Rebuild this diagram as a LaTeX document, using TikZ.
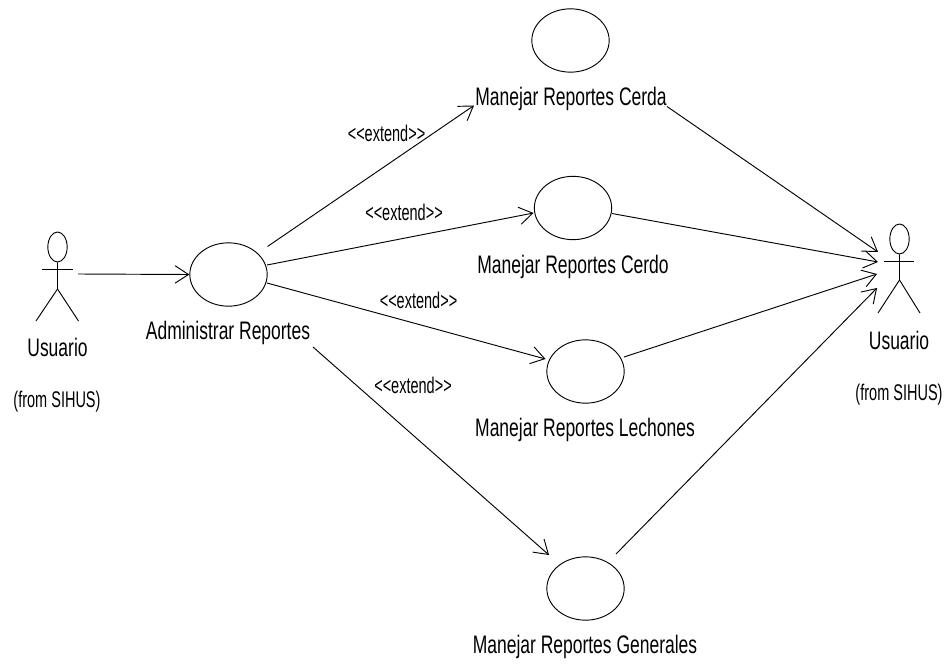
\documentclass[tikz,border=0pt]{standalone}
\usepackage{fontspec}
\setmainfont[FakeStretch=0.69]{Liberation Sans}
\newfontfamily\narrowsmall[FakeStretch=0.64]{Liberation Sans}
\usetikzlibrary{arrows.meta,shapes.geometric}
\tikzset{
  usecase/.style={draw=black,ellipse,line width=.7pt,minimum width=58pt,minimum height=47.5pt,inner sep=0pt},
  head/.style={draw=black,ellipse,line width=.7pt,inner sep=0pt},
  bigtext/.style={font=\fontsize{19}{21}\selectfont,inner sep=0pt,text=black},
  smalltext/.style={font=\narrowsmall\fontsize{17}{19}\selectfont,inner sep=0pt,text=black},
  conn/.style={line width=.7pt,draw=black},
  rel/.style={conn,-{Straight Barb[length=10pt,width=13pt,line width=.7pt]}},
  limb/.style={line width=.7pt,draw=black}
}
\begin{document}
\begin{tikzpicture}[x=0.75pt,y=-0.75pt]
\useasboundingbox (0,0) rectangle (948,663);
\fill[white] (0,0) rectangle (948,663);
% use cases
\node[usecase] (admin) at (228.5,274.5) {};
\node[usecase] (cerda) at (570.5,40.5) {};
\node[usecase] (cerdo) at (573,208) {};
\node[usecase] (lech) at (585.5,371.5) {};
\node[usecase] (gen) at (585.5,588.5) {};
% use case labels
\node[bigtext] (ladmin) at (228,333) {Administrar Reportes};
\node[bigtext] (lcerda) at (571,99) {Manejar Reportes Cerda};
\node[bigtext] (lcerdo) at (573,267) {Manejar Reportes Cerdo};
\node[bigtext] (llech) at (585,430) {Manejar Reportes Lechones};
\node[bigtext] (lgen) at (585,647) {Manejar Reportes Generales};
% left actor
\node[head,minimum width=14.5pt,minimum height=22.5pt] (hl) at (57.5,247) {};
\coordinate (hipl) at (57.5,289);
\coordinate (arml) at (42,269);
\coordinate (armr) at (72.5,269);
\coordinate (legl) at (36,321);
\coordinate (legr) at (78.5,321);
\draw[limb] (hl.south) -- (hipl) -- (legl);
\draw[limb] (hipl) -- (legr);
\draw[limb] (arml) -- (armr);
\node[bigtext] (ul) at (57.5,347) {Usuario};
\node[smalltext] (fl) at (57,402) {(from SIHUS)};
% right actor
\node[head,minimum width=14.5pt,minimum height=22.5pt] (hr) at (899.5,239) {};
\coordinate (hipr) at (899.5,280);
\coordinate (arrl) at (884,261);
\coordinate (arrr) at (914,261);
\coordinate (lgrl) at (878,313);
\coordinate (lgrr) at (920,313);
\draw[limb] (hr.south) -- (hipr) -- (lgrl);
\draw[limb] (hipr) -- (lgrr);
\draw[limb] (arrl) -- (arrr);
\node[bigtext] (ur) at (899,340) {Usuario};
\node[smalltext] (fr) at (899,395) {(from SIHUS)};
% connector ends
\coordinate (s0) at (78,274);
\coordinate (a1s) at (267.5,246.5);
\coordinate (a1e) at (474,105.5);
\coordinate (a2s) at (267,265);
\coordinate (a2e) at (533.5,213);
\coordinate (a3s) at (267,283);
\coordinate (a3e) at (545.5,359);
\coordinate (a4s) at (313,347);
\coordinate (a4e) at (549,555);
\coordinate (b1s) at (667,106.5);
\coordinate (b1e) at (878,252);
\coordinate (b2s) at (612,213.5);
\coordinate (b2e) at (878,262);
\coordinate (b3s) at (624,357);
\coordinate (b3e) at (877,274);
\coordinate (b4s) at (616,554);
\coordinate (b4e) at (877,288);
\draw[rel] (s0) -- (admin.west);
\draw[rel] (a1s) -- (a1e);
\draw[rel] (a2s) -- (a2e);
\draw[rel] (a3s) -- (a3e);
\draw[rel] (a4s) -- (a4e);
\draw[rel] (b1s) -- (b1e);
\draw[rel] (b2s) -- (b2e);
\draw[rel] (b3s) -- (b3e);
\draw[rel] (b4s) -- (b4e);
% stereotypes
\node[smalltext] (e1) at (386.5,133) {<{}<extend>{}>};
\node[smalltext] (e2) at (404,212) {<{}<extend>{}>};
\node[smalltext] (e3) at (418.5,300) {<{}<extend>{}>};
\node[smalltext] (e4) at (413,385) {<{}<extend>{}>};
\end{tikzpicture}
\end{document}
